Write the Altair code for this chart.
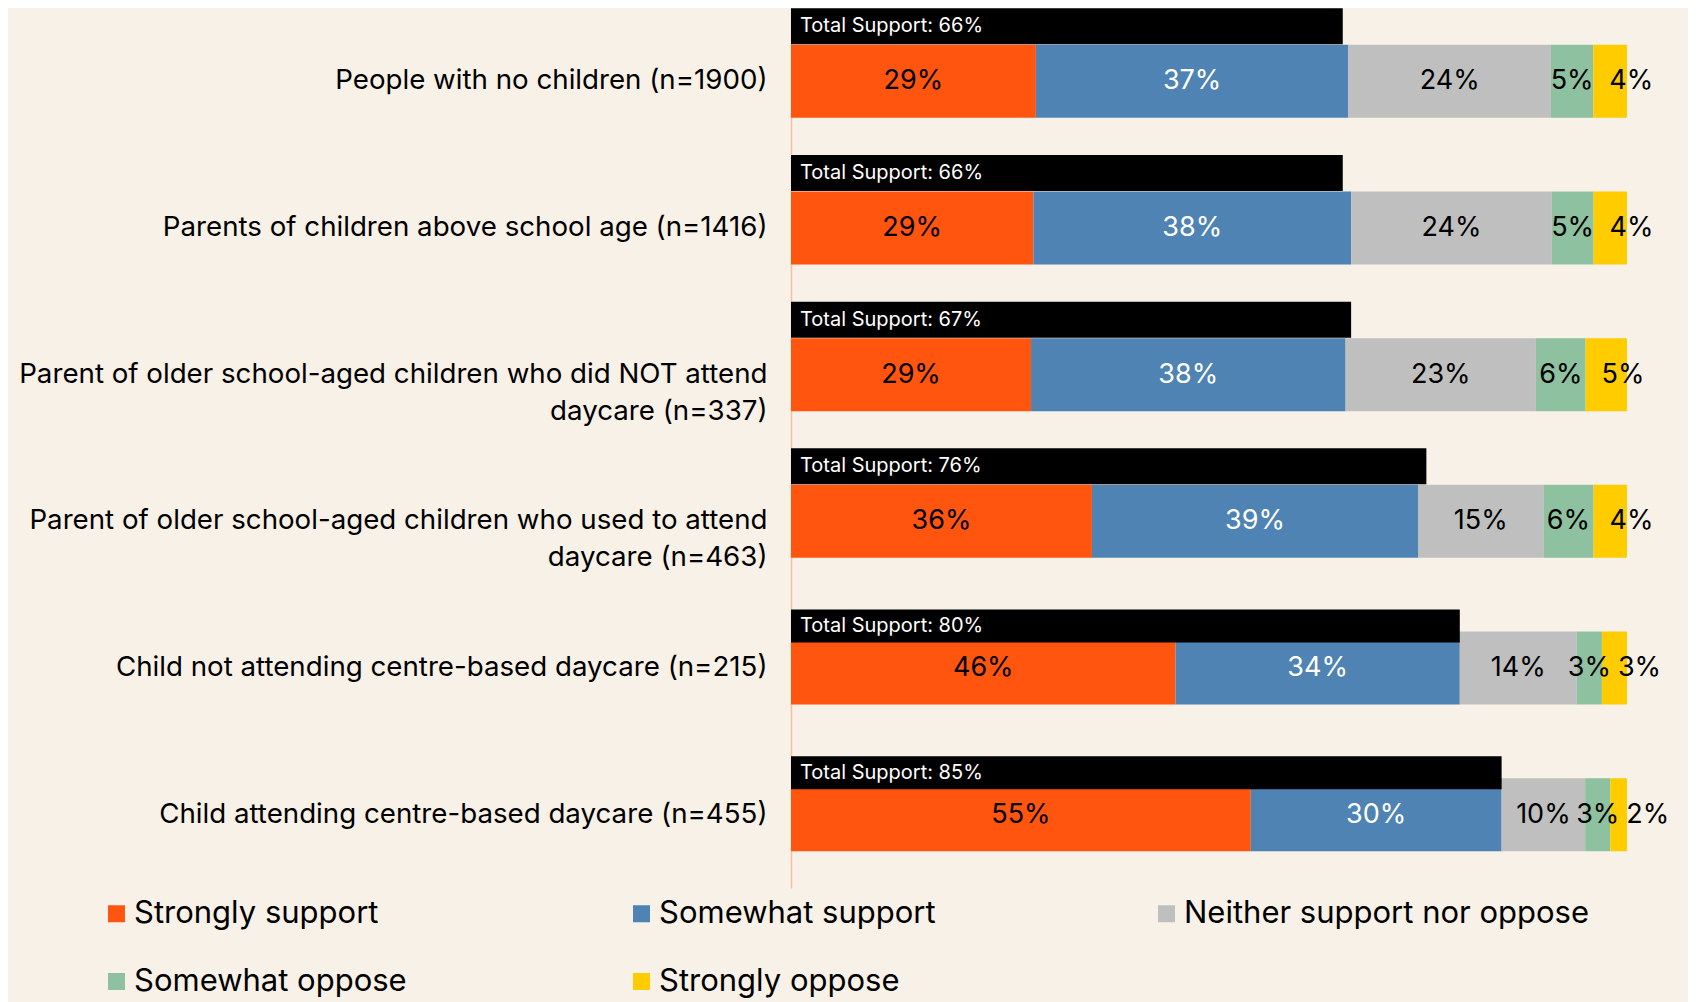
import altair as alt
import pandas as pd

groups = [
    "People with no children (n=1900)",
    "Parents of children above school age (n=1416)",
    "Parent of older school-aged children who did NOT attend|daycare (n=337)",
    "Parent of older school-aged children who used to attend|daycare (n=463)",
    "Child not attending centre-based daycare (n=215)",
    "Child attending centre-based daycare (n=455)",
]
series_names = ["Strongly support", "Somewhat support", "Neither support nor oppose",
                "Somewhat oppose", "Strongly oppose"]
strongly_support = [29, 29, 29, 36, 46, 55]
somewhat_support = [37, 38, 38, 39, 34, 30]
neither = [24, 24, 23, 15, 14, 10]
somewhat_oppose = [5, 5, 6, 6, 3, 3]
strongly_oppose = [4, 4, 5, 4, 3, 2]
total_support = [66, 66, 67, 76, 80, 85]

colors = ["#FF550F", "#4E83B3", "#BFBFBF", "#8EC19F", "#FFCC00"]
BG = "#F8F1E7"

rows = []
for s_i, (name, vals) in enumerate(zip(series_names, [strongly_support, somewhat_support, neither,
                                                      somewhat_oppose, strongly_oppose])):
    for g_i, g in enumerate(groups):
        rows.append({"group": g, "series": name, "order": s_i, "value": vals[g_i], "idx": g_i})
df = pd.DataFrame(rows)
tot = pd.DataFrame({"group": groups, "total": total_support, "idx": list(range(len(groups)))})

FONT = "Inter"
yenc = alt.Y("group:N", sort=groups, title=None,
             scale=alt.Scale(paddingInner=0, paddingOuter=0),
             axis=alt.Axis(labelExpr="split(datum.label, '|')", labelFontSize=27.7, labelColor="black",
                           labelFont=FONT, labelLimit=900, labelPadding=24, ticks=False,
                           domainColor="#FBBFA0", domainWidth=1.5, labelLineHeight=37))
xscale = alt.Scale(domain=[0, 1], nice=False, zero=True)

stacked = alt.Chart(df).transform_stack(
    stack="value", groupby=["group"], as_=["v0", "v1"], offset="normalize",
    sort=[alt.SortField("order", order="ascending")]
).transform_calculate(mid="(datum.v0 + datum.v1) / 2", lab="datum.value + '%'")

bars = stacked.mark_bar(size=73).encode(
    y=yenc,
    x=alt.X("v0:Q", scale=xscale, axis=None),
    x2="v1:Q",
    color=alt.Color("series:N", scale=alt.Scale(domain=series_names, range=colors),
                    legend=alt.Legend(title=None, orient="none", legendX=-690, legendY=890,
                                      direction="horizontal", columns=3, gridAlign="all",
                                      columnPadding=87, rowPadding=36, symbolType="square",
                                      symbolSize=289, symbolStrokeWidth=0, labelFontSize=31,
                                      labelFont=FONT, labelColor="black", labelOffset=2,
                                      labelLimit=600)),
)

labels = stacked.transform_filter("datum.series != 'Strongly oppose'").mark_text(
    fontSize=27, font=FONT, baseline="middle", align="center"
).encode(
    y=alt.Y("group:N", sort=groups),
    x=alt.X("mid:Q", scale=xscale),
    text="lab:N",
    color=alt.condition("datum.series == 'Somewhat support'", alt.value("white"), alt.value("black")),
)

labels_end = stacked.transform_filter("datum.series == 'Strongly oppose'").mark_text(
    fontSize=27, font=FONT, baseline="middle", align="left", dx=16, color="black"
).encode(
    y=alt.Y("group:N", sort=groups),
    x=alt.X("v0:Q", scale=xscale),
    text="lab:N",
)

totbase = alt.Chart(tot).transform_calculate(t="datum.total / 100",
                                             lab="'Total Support: ' + datum.total + '%'")
tb1 = totbase.transform_filter("datum.idx < 4").mark_bar(size=36, yOffset=-55, color="black").encode(
    y=alt.Y("group:N", sort=groups), x=alt.X("t:Q", scale=xscale), x2=alt.value(0))
tb2 = totbase.transform_filter("datum.idx >= 4").mark_bar(size=33, yOffset=-42, color="black").encode(
    y=alt.Y("group:N", sort=groups), x=alt.X("t:Q", scale=xscale), x2=alt.value(0))
tt1 = totbase.transform_filter("datum.idx < 4").mark_text(
    yOffset=-55, dx=9, align="left", baseline="middle", fontSize=20, font=FONT, color="white"
).encode(y=alt.Y("group:N", sort=groups), x=alt.value(0), text="lab:N")
tt2 = totbase.transform_filter("datum.idx >= 4").mark_text(
    yOffset=-42, dx=9, align="left", baseline="middle", fontSize=20, font=FONT, color="white"
).encode(y=alt.Y("group:N", sort=groups), x=alt.value(0), text="lab:N")

chart = alt.layer(bars, tb1, tb2, labels, labels_end, tt1, tt2).properties(
    width=836, height=880, background=BG,
    padding={"left": 783, "top": 0, "right": 61, "bottom": 114},
    autosize=alt.AutoSizeParams(type="none"),
).configure(font=FONT).configure_view(stroke=None)

chart.save("out.html", embed_options={"renderer": "svg", "actions": False})
